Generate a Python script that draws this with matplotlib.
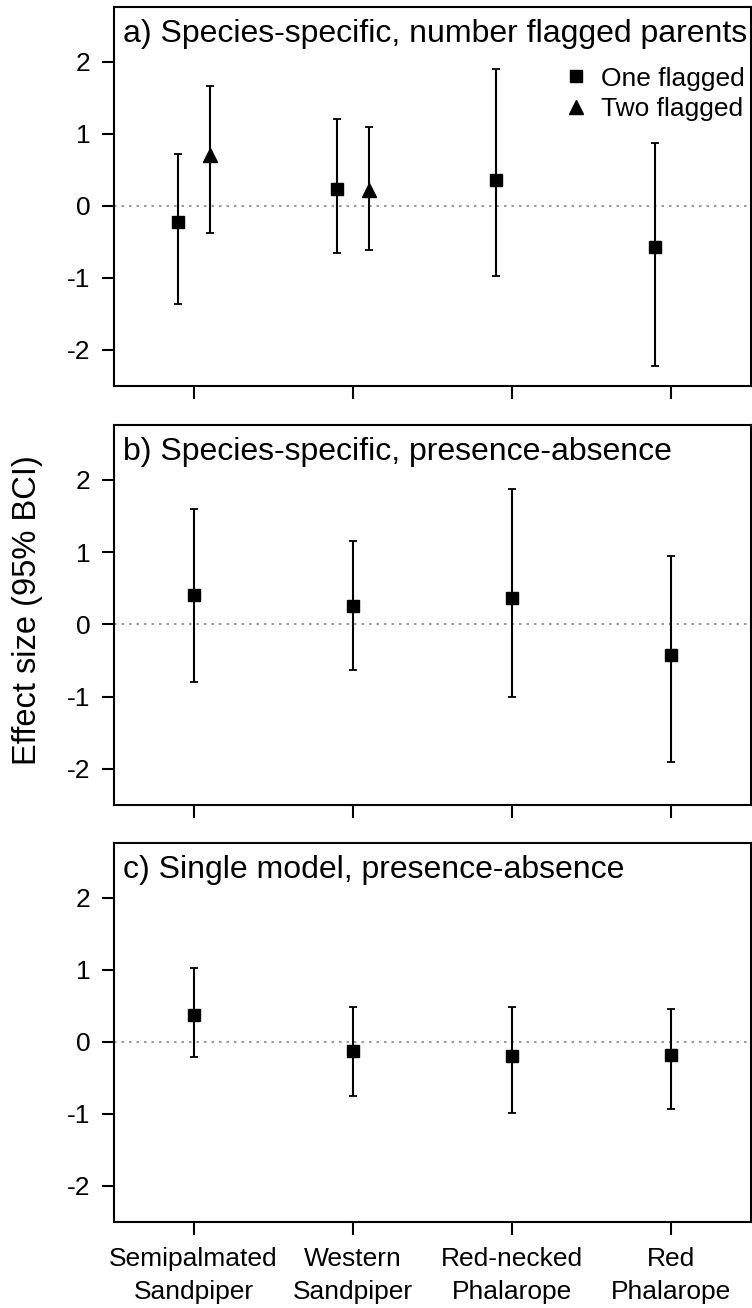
import matplotlib
matplotlib.use("Agg")
import matplotlib.pyplot as plt
from matplotlib.lines import Line2D
import numpy as np

plt.rcParams['font.family'] = ['Liberation Sans', 'DejaVu Sans']
plt.rcParams['axes.unicode_minus'] = False

species = ["Semipalmated\nSandpiper", "Western\nSandpiper", "Red-necked\nPhalarope", "Red\nPhalarope"]

# a) number of flagged parents
a_one_est = [-0.23, 0.23, 0.36, -0.57]
a_one_lo = [-1.36, -0.65, -0.98, -2.22]
a_one_hi = [0.72, 1.20, 1.90, 0.87]
a_two_est = [0.70, 0.22]
a_two_lo = [-0.38, -0.61]
a_two_hi = [1.66, 1.09]

# b) species-specific presence-absence
b_est = [0.41, 0.25, 0.37, -0.43]
b_lo = [-0.80, -0.63, -1.01, -1.90]
b_hi = [1.60, 1.15, 1.88, 0.94]

# c) single model presence-absence
c_est = [0.37, -0.13, -0.20, -0.18]
c_lo = [-0.21, -0.75, -0.99, -0.93]
c_hi = [1.03, 0.48, 0.49, 0.46]

titles = ["a) Species-specific, number flagged parents",
          "b) Species-specific, presence-absence",
          "c) Single model, presence-absence"]

W, H = 752, 1308
fig = plt.figure(figsize=(W / 100, H / 100), dpi=100)

# panel boxes in pixels: (top, bottom)
boxes = [(7, 386), (425, 805), (843, 1222)]
left, right = 114, 751
axes = []
for top, bot in boxes:
    ax = fig.add_axes([left / W, 1 - bot / H, (right - left) / W, (bot - top) / H])
    axes.append(ax)

xpos = np.arange(1, len(species) + 1)


def draw(ax, x, est, lo, hi, marker, ms):
    est = np.array(est)
    yerr = [est - np.array(lo), np.array(hi) - est]
    ax.errorbar(x, est, yerr=yerr, fmt=marker, color='black', ms=ms,
                elinewidth=1.5, capsize=2.6, capthick=1.3, zorder=3)


draw(axes[0], xpos - 0.1, a_one_est, a_one_lo, a_one_hi, 's', 8)
draw(axes[0], xpos[:2] + 0.1, a_two_est, a_two_lo, a_two_hi, '^', 10)
draw(axes[1], xpos, b_est, b_lo, b_hi, 's', 8)
draw(axes[2], xpos, c_est, c_lo, c_hi, 's', 8)

for i, ax in enumerate(axes):
    ax.axhline(0, color='#888888', lw=1.2, ls=(0, (1.5, 3)), zorder=1)
    ax.set_xlim(0.5, 4.5)
    ax.set_ylim(-2.5, 2.76)
    ax.set_yticks([-2, -1, 0, 1, 2])
    ax.set_xticks(xpos)
    ax.tick_params(length=9, width=1.5, labelsize=19)
    ax.tick_params(axis='x', pad=9)
    ax.tick_params(axis='y', pad=8)
    for s in ax.spines.values():
        s.set_linewidth(1.5)
    if i < 2:
        ax.set_xticklabels([])
    else:
        ax.set_xticklabels(species, linespacing=1.45)
    ax.annotate(titles[i], xy=(0, 1), xycoords='axes fraction',
                xytext=(6.5, -25), textcoords='offset points',
                fontsize=23, ha='left', va='baseline')

handles = [Line2D([], [], marker='s', ls='none', color='black', ms=8),
           Line2D([], [], marker='^', ls='none', color='black', ms=10)]
axes[0].legend(handles, ["One flagged", "Two flagged"], loc='upper left',
               bbox_to_anchor=(0.705, 0.843), frameon=False, fontsize=19,
               handlelength=1.0, handletextpad=0.45, labelspacing=0.25,
               borderpad=0, borderaxespad=0)

fig.text(28 / W, 1 - 610 / H, "Effect size (95% BCI)", rotation=90,
         fontsize=23.5, ha='center', va='center')

fig.savefig("out.png", dpi=100)
